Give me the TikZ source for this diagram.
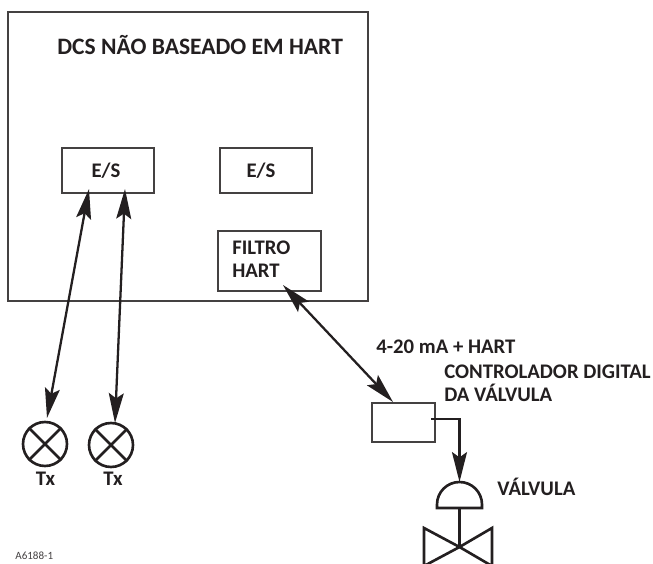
\documentclass[tikz,border=0pt]{standalone}
\usepackage{fontspec}
\setmainfont{Carlito}
\usetikzlibrary{arrows.meta,positioning}
\definecolor{inkline}{HTML}{231F20}
\tikzset{
  iobox/.style={draw=inkline!85,line width=1.1pt,minimum width=92*0.02cm,minimum height=45*0.02cm,inner sep=0pt},
  lbl/.style={font=\bfseries\fontsize{11.8}{13}\selectfont,text=inkline,inner sep=0pt},
  sarr/.style={{Stealth[length=17pt,width=8.5pt,inset=3pt]}-{Stealth[length=17pt,width=8.5pt,inset=3pt]},inkline,line width=1.3pt},
  marr/.style={-{Stealth[length=17pt,width=8.5pt,inset=3pt]},inkline,line width=1.5pt},
  sym/.style={draw=inkline,line width=1.5pt},
  txsym/.style={circle,sym,minimum size=44*0.02cm,inner sep=0pt},
}
\begin{document}
\begin{tikzpicture}[x=0.02cm,y=-0.02cm]
  \useasboundingbox (0,0) rectangle (653,564);
  \begin{scope}
    \clip (0,0) rectangle (653,564);
    \node[iobox,minimum width=360*0.02cm,minimum height=289*0.02cm] (dcs) at (188,156.5) {};
    \node[lbl,font=\bfseries\fontsize{13.4}{15}\selectfont,anchor=west] (title) at (57,45) {DCS NÃO BASEADO EM HART};
    \node[iobox] (es1) at (108,170.5) {};
    \node[lbl] (es1txt) at (106,171) {E/S};
    \node[iobox] (es2) at (266,170.5) {};
    \node[lbl] (es2txt) at (261,171) {E/S};
    \node[iobox,minimum width=103*0.02cm,minimum height=60*0.02cm] (filtro) at (269.5,261) {};
    \node[lbl,anchor=west,align=left] (filtrotxt) at (232,259) {FILTRO\\HART};
    \node[txsym] (tx1) at (45,444) {};
    \node[txsym] (tx2) at (111,445) {};
    \draw[sym] (tx1.north west) -- (tx1.south east) (tx1.north east) -- (tx1.south west);
    \draw[sym] (tx2.north west) -- (tx2.south east) (tx2.north east) -- (tx2.south west);
    \node[lbl] (txa) at (45.5,479) {Tx};
    \node[lbl] (txb) at (113,479) {Tx};
    \node[font=\fontsize{6.3}{7}\selectfont,text=inkline!85,inner sep=0pt,anchor=west] (code) at (15,556) {A6188-1};
    \node[iobox,minimum width=63*0.02cm,minimum height=39*0.02cm] (dvc) at (403.5,422.5) {};
    \coordinate (a1) at (89,189);
    \coordinate (b1) at (47,418);
    \coordinate (a2) at (125,189);
    \coordinate (b2) at (115,423);
    \coordinate (c1) at (283,285);
    \coordinate (c2) at (393,402);
    \draw[sarr] (b1) -- (a1);
    \draw[sarr] (b2) -- (a2);
    \draw[sarr] (c2) -- (c1);
    \node[lbl,anchor=west] (sig) at (376,347) {4-20 mA + HART};
    \node[lbl,anchor=west,align=left] (dvclbl) at (444,383.5) {CONTROLADOR DIGITAL\\DA VÁLVULA};
    \coordinate (wire) at (431,419);
    \coordinate (acttop) at (459.5,482);
    \draw[marr] (wire) -| (acttop);
    \draw[sym] (437,508) -- (437,504.5) arc[start angle=180,end angle=360,radius=22.5] -- (482,508) -- cycle;
    \coordinate (actbot) at (459.5,508);
    \coordinate (valvec) at (459.5,547);
    \draw[sym] (actbot) -- (valvec);
    \draw[sym] (valvec) -- (424,528) -- (424,566) -- cycle;
    \draw[sym] (valvec) -- (492,528) -- (492,566) -- cycle;
    \node[lbl,anchor=west] (vlbl) at (497,487) {VÁLVULA};
  \end{scope}
\end{tikzpicture}
\end{document}
